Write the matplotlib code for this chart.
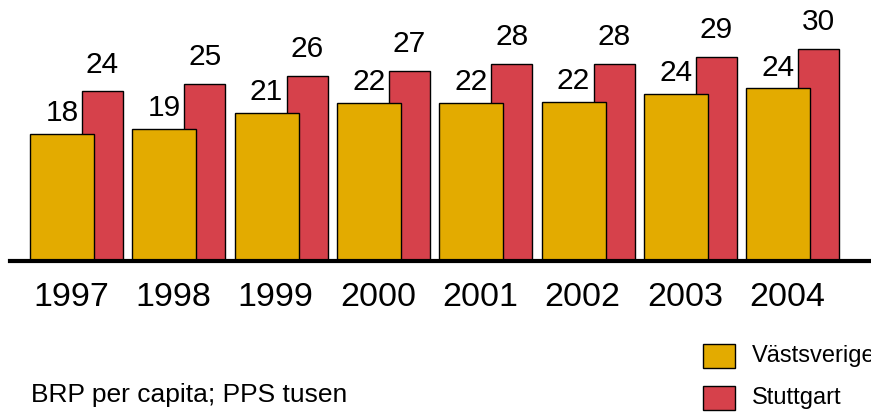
import matplotlib
matplotlib.use("Agg")
import matplotlib.pyplot as plt
from matplotlib.patches import Rectangle

plt.rcParams['font.family'] = ['Liberation Sans', 'DejaVu Sans']

years = ["1997", "1998", "1999", "2000", "2001", "2002", "2003", "2004"]
vastsverige = [18.0, 18.7, 20.9, 22.3, 22.3, 22.5, 23.6, 24.4]
stuttgart = [24.0, 25.1, 26.2, 26.9, 27.9, 27.9, 28.9, 30.0]
vast_labels = ["18", "19", "21", "22", "22", "22", "24", "24"]
stut_labels = ["24", "25", "26", "27", "28", "28", "29", "30"]
legend_names = ["Västsverige", "Stuttgart"]
note = "BRP per capita; PPS tusen"

YELLOW = "#E3AB00"
RED = "#D6414B"

W, H = 871, 412
fig = plt.figure(figsize=(W / 100, H / 100), dpi=100)

# axes: baseline at y=261px from top, spanning whole width
base_px = 261
ax = fig.add_axes([0, (H - base_px) / H, 1, base_px / H])
ax.set_axis_off()

gap = 102.3            # px per group
first = 30             # px left of first yellow bar
ax.set_xlim(-first / gap, (W - first) / gap)
ax.set_ylim(0, base_px / 7.07)

yw = 64 / gap
rw = 41 / gap
roff = 52 / gap

x = list(range(len(years)))
ax.bar([i + roff for i in x], stuttgart, width=rw, align='edge', color=RED,
       edgecolor='black', linewidth=1.0, zorder=2)
ax.bar(x, vastsverige, width=yw, align='edge', color=YELLOW,
       edgecolor='black', linewidth=1.0, zorder=3)

for i in x:
    ax.annotate(vast_labels[i], (i + yw / 2, vastsverige[i]), xytext=(0, 5),
                textcoords='offset points', ha='center', va='bottom',
                fontsize=21.5, zorder=4)
    ax.annotate(stut_labels[i], (i + roff + rw / 2, stuttgart[i]), xytext=(0, 9),
                textcoords='offset points', ha='center', va='bottom',
                fontsize=21.5, zorder=4)
    ax.text(i + 41 / gap, -36 / 7.07, years[i], ha='center', va='center',
            fontsize=24.5, clip_on=False)

ax.axhline(0, xmin=10 / W, xmax=1, color='black', linewidth=3, zorder=5,
           clip_on=False)

# note text
fig.text(31 / W, 1 - 395 / H, note, ha='left', va='center', fontsize=19)

# legend
for k, (name, col) in enumerate(zip(legend_names, [YELLOW, RED])):
    yc = 356 + k * 42
    fig.patches.append(Rectangle((703 / W, 1 - (yc + 12) / H), 32 / W, 24 / H,
                                 transform=fig.transFigure, facecolor=col,
                                 edgecolor='black', linewidth=1.0))
    fig.text(752 / W, 1 - yc / H, name, ha='left', va='center', fontsize=17)

fig.savefig("out.png", dpi=100)
